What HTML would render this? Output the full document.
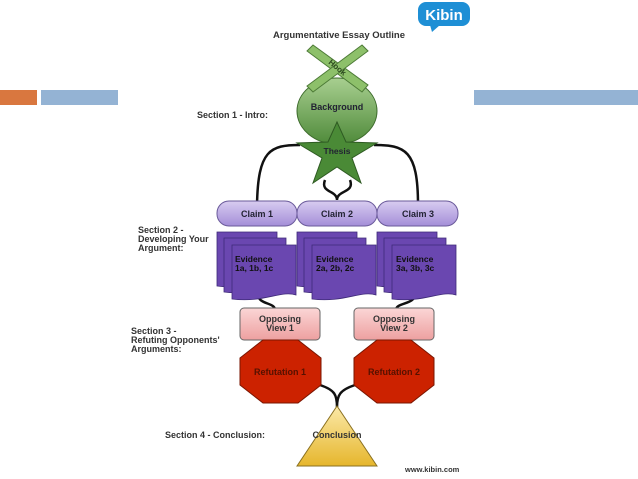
<!DOCTYPE html>
<html><head><meta charset="utf-8"><style>
html,body{margin:0;padding:0;background:#fff;}
svg{display:block;font-family:"Liberation Sans",sans-serif;font-weight:bold;}
</style></head><body>
<svg width="638" height="479" viewBox="0 0 638 479" xmlns="http://www.w3.org/2000/svg">
<defs>
<linearGradient id="gb" x1="0" y1="0" x2="0" y2="1"><stop offset="0" stop-color="#a8cf90"/><stop offset="1" stop-color="#4f8a3a"/></linearGradient>
<linearGradient id="gc" x1="0" y1="0" x2="0" y2="1"><stop offset="0" stop-color="#d8ccf0"/><stop offset="1" stop-color="#a48ed8"/></linearGradient>
<linearGradient id="gt" x1="0" y1="0" x2="0" y2="1"><stop offset="0" stop-color="#fbe9a8"/><stop offset="1" stop-color="#e6b62c"/></linearGradient>
<linearGradient id="go" x1="0" y1="0" x2="0" y2="1"><stop offset="0" stop-color="#fbd6d6"/><stop offset="1" stop-color="#eda0a0"/></linearGradient>
</defs>
<rect x="0" y="90" width="37" height="15" fill="#d9773f"/>
<rect x="41" y="90" width="77" height="15" fill="#94b3d4"/>
<rect x="474" y="90" width="164" height="15" fill="#94b3d4"/>
<rect x="418" y="2" width="52" height="24" rx="8" fill="#1e8fd5"/>
<path d="M430 25 L432 32 L440 25Z" fill="#1e8fd5"/>
<text x="444" y="20" font-size="15" fill="#fff" text-anchor="middle">Kibin</text>
<text x="339" y="38" font-size="9.5" fill="#333" text-anchor="middle">Argumentative Essay Outline</text>
<g fill="none" stroke="#111" stroke-width="2.5">
<path d="M300 145 C270 145 258 150 257 205"/>
<path d="M374 145 C405 145 418 150 418 205"/>
<path d="M325 180 C320 193 337 190 337 200 C337 190 355 193 350 180"/>
<path d="M258 294 C258 305 275 302 275 310"/>
<path d="M415 294 C415 305 396 302 396 310"/>
<path d="M320 385 C335 390 337 395 337 407 C337 395 340 390 355 385"/>
</g>
<ellipse cx="337" cy="111" rx="40" ry="33" fill="url(#gb)" stroke="#3d6b2c"/>
<g fill="#8dc06a" stroke="#4c7a36" stroke-width="1">
<polygon points="307,51 313,45 368,85 362,92"/>
<polygon points="362,45 368,51 313,92 307,86"/>
</g>
<text x="337" y="70" font-size="8" fill="#2d4a20" text-anchor="middle" transform="rotate(40 337 68)">Hook</text>
<text x="337" y="110" font-size="9" fill="#223" text-anchor="middle">Background</text>
<polygon points="337,122 346,142 377,143 352,158 361,183 337,167 313,183 322,158 297,143 328,142" fill="#4a8a36" stroke="#2e5a22"/>
<text x="337" y="154" font-size="8.5" fill="#223" text-anchor="middle">Thesis</text>
<text x="197" y="118" font-size="9" fill="#333">Section 1 - Intro:</text>
<g stroke="#6a5a9a" fill="url(#gc)">
<rect x="217" y="201" width="80" height="25" rx="12"/>
<rect x="297" y="201" width="80" height="25" rx="12"/>
<rect x="377" y="201" width="81" height="25" rx="12"/>
</g>
<g font-size="9" fill="#223" text-anchor="middle">
<text x="257" y="217">Claim 1</text><text x="337" y="217">Claim 2</text><text x="418" y="217">Claim 3</text>
</g>
<g fill="#6a47b0" stroke="#3e2a78" stroke-width="0.8">
<path d="M217 232 h60 v50 c-15 -5 -30 8 -60 4z"/>
<path d="M224 238 h62 v50 c-15 -5 -32 8 -62 4z"/>
<path d="M232 245 h64 v50 c-15 -5 -32 8 -64 4z"/>
<path d="M297 232 h60 v50 c-15 -5 -30 8 -60 4z"/>
<path d="M304 238 h62 v50 c-15 -5 -32 8 -62 4z"/>
<path d="M312 245 h64 v50 c-15 -5 -32 8 -64 4z"/>
<path d="M377 232 h60 v50 c-15 -5 -30 8 -60 4z"/>
<path d="M384 238 h62 v50 c-15 -5 -32 8 -62 4z"/>
<path d="M392 245 h64 v50 c-15 -5 -32 8 -64 4z"/>
</g>
<g font-size="8.5" fill="#111">
<text x="235" y="262">Evidence</text><text x="235" y="271">1a, 1b, 1c</text>
<text x="316" y="262">Evidence</text><text x="316" y="271">2a, 2b, 2c</text>
<text x="396" y="262">Evidence</text><text x="396" y="271">3a, 3b, 3c</text>
</g>
<g font-size="9" fill="#333">
<text x="138" y="233">Section 2 -</text><text x="138" y="242">Developing Your</text><text x="138" y="251">Argument:</text>
<text x="131" y="334">Section 3 -</text><text x="131" y="343">Refuting Opponents'</text><text x="131" y="352">Arguments:</text>
<text x="165" y="438">Section 4 - Conclusion:</text>
</g>
<g fill="url(#go)" stroke="#666">
<rect x="240" y="308" width="80" height="32" rx="4"/>
<rect x="354" y="308" width="80" height="32" rx="4"/>
</g>
<g font-size="9" fill="#333" text-anchor="middle">
<text x="280" y="322">Opposing</text><text x="280" y="331">View 1</text>
<text x="394" y="322">Opposing</text><text x="394" y="331">View 2</text>
</g>
<g fill="#cc2200" stroke="#7a1500">
<polygon points="263,340 298,340 321,358 321,385 298,403 263,403 240,385 240,358"/>
<polygon points="377,340 411,340 434,358 434,385 411,403 377,403 354,385 354,358"/>
</g>
<g font-size="9" fill="#551100" text-anchor="middle">
<text x="280" y="375">Refutation 1</text><text x="394" y="375">Refutation 2</text>
</g>
<polygon points="337,406 377,466 297,466" fill="url(#gt)" stroke="#8a7020"/>
<text x="337" y="438" font-size="9" fill="#333" text-anchor="middle">Conclusion</text>
<text x="405" y="472" font-size="7.5" fill="#333">www.kibin.com</text>
</svg>
</body></html>
